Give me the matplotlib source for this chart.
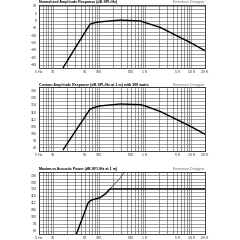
import matplotlib
matplotlib.use("Agg")
import matplotlib.pyplot as plt
import numpy as np
from matplotlib.ticker import FixedLocator, NullFormatter

plt.rcParams['font.family'] = ['Liberation Sans', 'DejaVu Sans']

# x axis
xticks = [5, 10, 50, 100, 500, 1000, 5000, 10000, 20000]
xlabels = ['5 Hz', '10', '50', '100', '500', '1 K', '5 K', '10 K', '20 K']

# normalized amplitude response
norm_freq = [16.8, 32.7, 64, 82, 105, 286, 777, 1000, 2140, 4900, 9500, 20000]
norm_db = [-31.8, -17.1, -2.5, -1.4, -0.9, 0.3, -0.3, -1.4, -4.7, -10.4, -14.9, -20.5]
norm_yticks = [10, 5, 0, -5, -10, -15, -20, -25, -30]

# custom amplitude response at 300 W
cust_freq = [16.8, 32.7, 64, 82, 105, 286, 777, 1000, 2140, 4900, 9500, 20000]
cust_db = [86, 103.2, 120.4, 122.1, 123.2, 124.8, 124.3, 123.2, 118.4, 111.5, 105.9, 99.0]
spl_yticks = [136, 130, 124, 118, 112, 106, 100, 94, 88]

# maximum acoustic power
max_freq = [32.7, 58.5, 69, 105, 140, 173, 20000]
max_db = [85.4, 112.2, 114.4, 116.4, 120, 124, 124]
exc_freq = [105, 140, 173, 286, 400]
exc_db = [116.4, 120, 124, 133.3, 140.9]

fig = plt.figure(figsize=(2.4, 2.4), dpi=100)
fig.patch.set_facecolor('white')

left, width = 0.1625, 0.692
boxes = [(0.715, 0.264), (0.372, 0.264), (0.025, 0.26)]
titles = ['Normalized Amplitude Response (dB-SPL/Hz)',
          'Custom Amplitude Response (dB-SPL/Hz at 1 m) with 300 watts',
          'Maximum Acoustic Power (dB-SPL/Hz at 1 m)']


def setup(ax, ylim, yticks, step, title):
    ax.set_xscale('log')
    ax.set_xlim(5, 20000)
    ax.set_ylim(*ylim)
    minors = [m * 10 ** e for e in range(0, 5) for m in range(1, 10)]
    ax.xaxis.set_major_locator(FixedLocator(xticks))
    ax.xaxis.set_minor_locator(FixedLocator(minors))
    ax.xaxis.set_minor_formatter(NullFormatter())
    ax.set_xticklabels(xlabels)
    ax.set_yticks(yticks)
    ax.set_yticks(np.arange(ylim[0], ylim[1] + 0.01, step), minor=True)
    ax.grid(True, which='both', color='#555555', linewidth=0.4)
    ax.tick_params(which='both', length=0, labelsize=2.6, pad=1.5, colors='#333333')
    for s in ax.spines.values():
        s.set_linewidth(0.6)
        s.set_color('#222222')
    ax.text(0, 1.01, title, transform=ax.transAxes, fontsize=2.6,
            fontweight='bold', ha='left', va='bottom')
    ax.text(1, 1.01, 'Eminence Designer', transform=ax.transAxes, fontsize=2.6,
            color='#666666', ha='right', va='bottom')


ax1 = fig.add_axes([left, boxes[0][0], width, boxes[0][1]])
setup(ax1, (-32.5, 10.5), norm_yticks, 2.5, titles[0])
ax1.plot(norm_freq, norm_db, color='black', lw=1.0)

ax2 = fig.add_axes([left, boxes[1][0], width, boxes[1][1]])
setup(ax2, (85, 139), spl_yticks, 3, titles[1])
ax2.plot(cust_freq, cust_db, color='black', lw=1.0)

ax3 = fig.add_axes([left, boxes[2][0], width, boxes[2][1]])
setup(ax3, (85, 139), spl_yticks, 3, titles[2])
ax3.plot(exc_freq, exc_db, color='#444444', lw=0.5)
ax3.plot(max_freq, max_db, color='black', lw=1.0)

fig.savefig('out.png', dpi=100, facecolor='white')
